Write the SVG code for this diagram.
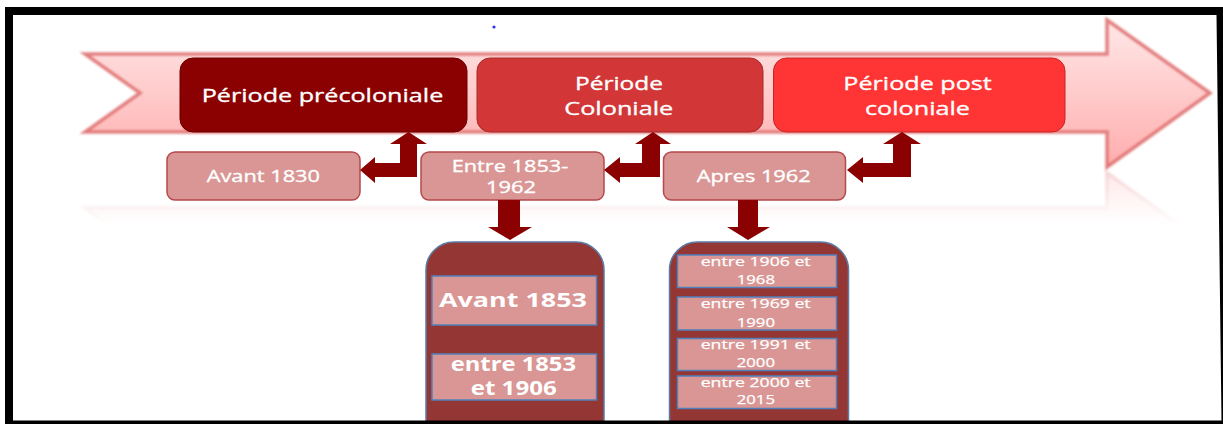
<svg xmlns="http://www.w3.org/2000/svg" width="1223" height="424" viewBox="0 0 1223 424">
<style>
.t{font-family:"Open Sans","Liberation Sans",sans-serif;fill:#fff;stroke:#fff;stroke-width:0.35}
.big{font-size:19px}
.mid{font-size:17px}
.bold{font-size:19px;font-weight:bold;stroke-width:0}
.small{font-size:13.5px;stroke-width:0.25}
.sub{fill:#d99694;stroke:#b5494b;stroke-width:1.5}
.cont{fill:#943634;stroke:#5b7ba5;stroke-width:1.5}
.inner{fill:#d99694;stroke:#4f81bd;stroke-width:1.5}
.conn{fill:#8b0000}
</style>
<defs>
<linearGradient id="ag" x1="0" y1="20" x2="0" y2="167" gradientUnits="userSpaceOnUse">
<stop offset="0" stop-color="#ffe8e8"/>
<stop offset="1" stop-color="#ffadad"/>
</linearGradient>
<linearGradient id="rg" x1="0" y1="170" x2="0" y2="226" gradientUnits="userSpaceOnUse">
<stop offset="0" stop-color="#fff" stop-opacity="0.3"/>
<stop offset="1" stop-color="#fff" stop-opacity="0"/>
</linearGradient>
<mask id="rm" maskUnits="userSpaceOnUse" x="0" y="168" width="1223" height="80">
<rect x="0" y="168" width="1223" height="80" fill="url(#rg)"/>
</mask>
<filter id="blur" x="-5%" y="-20%" width="110%" height="140%">
<feGaussianBlur stdDeviation="1.3"/>
</filter>
<path id="arrowShape" d="M85,54 L1107,54 L1107,20 L1210,93 L1107,167 L1107,132 L85,132 L140,93 Z"/>
</defs>
<rect x="0" y="0" width="1223" height="424" fill="#fff"/>
<circle cx="494" cy="27" r="1.6" fill="#3030ff"/>

<g id="timeline-arrow">
<use href="#arrowShape" fill="url(#ag)"/>
<use href="#arrowShape" fill="none" stroke="#e07474" stroke-width="3.5" opacity="0.9" filter="url(#blur)"/>
<g mask="url(#rm)">
<g transform="translate(0,340) scale(1,-1)">
<use href="#arrowShape" fill="url(#ag)"/>
<use href="#arrowShape" fill="none" stroke="#e07474" stroke-width="3.5" filter="url(#blur)"/>
</g>
</g>
</g>

<g id="precoloniale">
<rect x="180" y="58" width="287" height="74" rx="13" fill="#8b0000" stroke="#6a0000" stroke-width="1"/>
<text class="t big" x="201.7" y="101.7" textLength="241.6" lengthAdjust="spacingAndGlyphs">Période précoloniale</text>
</g>
<g id="coloniale">
<rect x="477" y="58" width="286" height="74" rx="13" fill="#d23636" stroke="#a52a2a" stroke-width="1"/>
<text class="t big" x="575" y="90" textLength="88" lengthAdjust="spacingAndGlyphs">Période</text>
<text class="t big" x="564.3" y="115" textLength="109" lengthAdjust="spacingAndGlyphs">Coloniale</text>
</g>
<g id="postcoloniale">
<rect x="773.5" y="58" width="291.5" height="74" rx="13" fill="#ff3434" stroke="#c42626" stroke-width="1"/>
<text class="t big" x="843.3" y="90" textLength="148.4" lengthAdjust="spacingAndGlyphs">Période post</text>
<text class="t big" x="865" y="115" textLength="105" lengthAdjust="spacingAndGlyphs">coloniale</text>
</g>

<g id="avant1830">
<rect class="sub" x="167" y="152" width="193" height="48" rx="8"/>
<text class="t mid" x="206.7" y="181.7" textLength="113.3" lengthAdjust="spacingAndGlyphs">Avant 1830</text>
</g>
<g id="entre1853-1962">
<rect class="sub" x="421" y="152" width="183" height="48" rx="8"/>
<text class="t mid" x="451.7" y="171.7" textLength="116.6" lengthAdjust="spacingAndGlyphs">Entre 1853-</text>
<text class="t mid" x="486" y="192.7" textLength="50" lengthAdjust="spacingAndGlyphs">1962</text>
</g>
<g id="apres1962">
<rect class="sub" x="663.5" y="152" width="182" height="48" rx="8"/>
<text class="t mid" x="696.7" y="181.7" textLength="114" lengthAdjust="spacingAndGlyphs">Apres 1962</text>
</g>

<g id="colonial-detail">
<rect class="cont" x="426" y="242" width="178" height="210" rx="28"/>
<rect class="inner" x="432" y="276" width="164.5" height="49"/>
<text class="t bold" x="439" y="307.3" textLength="148" lengthAdjust="spacingAndGlyphs">Avant 1853</text>
<rect class="inner" x="432" y="354" width="164.5" height="46"/>
<text class="t bold" x="450.7" y="370.7" textLength="125.3" lengthAdjust="spacingAndGlyphs">entre 1853</text>
<text class="t bold" x="470.7" y="395" textLength="86" lengthAdjust="spacingAndGlyphs">et 1906</text>
</g>

<g id="postcolonial-detail">
<rect class="cont" x="669.5" y="242" width="179" height="210" rx="28"/>
<rect class="inner" x="677.5" y="255" width="159" height="32.5"/>
<text class="t small" x="700.7" y="266" textLength="110" lengthAdjust="spacingAndGlyphs">entre 1906 et</text>
<text class="t small" x="736.7" y="284" textLength="38.3" lengthAdjust="spacingAndGlyphs">1968</text>
<rect class="inner" x="677.5" y="297" width="159" height="33"/>
<text class="t small" x="700.7" y="307.7" textLength="110" lengthAdjust="spacingAndGlyphs">entre 1969 et</text>
<text class="t small" x="736.7" y="326.7" textLength="38.3" lengthAdjust="spacingAndGlyphs">1990</text>
<rect class="inner" x="677.5" y="338.5" width="159" height="32"/>
<text class="t small" x="700.7" y="349" textLength="110" lengthAdjust="spacingAndGlyphs">entre 1991 et</text>
<text class="t small" x="736.7" y="366.7" textLength="38.3" lengthAdjust="spacingAndGlyphs">2000</text>
<rect class="inner" x="677.5" y="376" width="159" height="32.5"/>
<text class="t small" x="700.7" y="386.7" textLength="110" lengthAdjust="spacingAndGlyphs">entre 2000 et</text>
<text class="t small" x="736.7" y="404" textLength="38.3" lengthAdjust="spacingAndGlyphs">2015</text>
</g>

<g id="connectors">
<path class="conn" d="M360,170 L375,157 L375,163 L400,163 L400,144 L390,144 L408.5,132 L427,144 L417,144 L417,177 L375,177 L375,183 Z"/>
<path class="conn" d="M604,170 L620,157 L620,163 L642,163 L642,144 L635,144 L653,132 L671,144 L660,144 L660,177 L620,177 L620,183 Z"/>
<path class="conn" d="M847,170 L863,157 L863,163 L893,163 L893,144 L883,144 L902,132 L921,144 L911,144 L911,177 L863,177 L863,183 Z"/>
<path class="conn" d="M498,200 L520,200 L520,227 L532,227 L510,240 L488,227 L498,227 Z"/>
<path class="conn" d="M738,200 L758,200 L758,227 L770,227 L748,240 L727,227 L738,227 Z"/>
</g>

<path id="frame" fill="#000" fill-rule="evenodd" d="M5,7 L1223,7 L1223,424 L5,424 Z M13,15 L13,420.5 L1221.5,420.5 L1216.5,15 Z"/>
</svg>
